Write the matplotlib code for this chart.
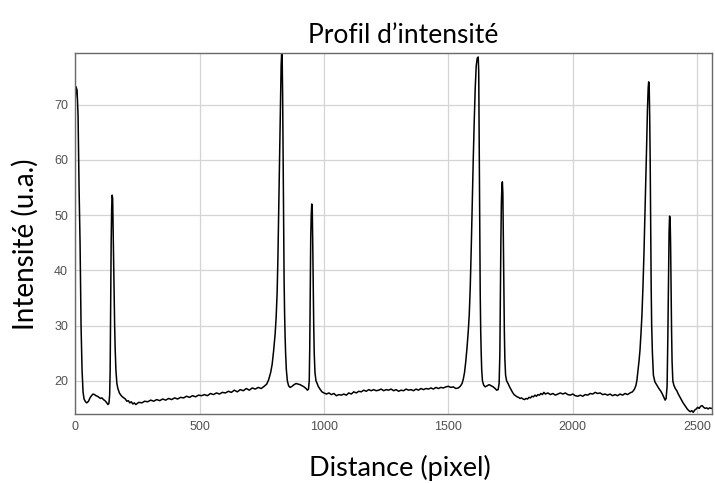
import matplotlib
matplotlib.use("Agg")
import matplotlib.pyplot as plt

distance = [
    0, 4, 8, 12, 16, 20, 24, 28, 32, 36, 42,
    47, 54, 60, 66, 72, 78, 84, 90, 96, 102, 108, 114, 120, 126, 132, 136, 139,
    141, 143, 145, 147, 149, 151, 153, 155, 157, 159, 161, 164, 168, 172, 178,
    184, 190, 196, 202, 208, 214, 220, 226, 232, 238, 244, 250,
    256, 268, 280, 292, 304, 316, 328, 340, 352, 364, 376, 388, 400, 412, 424,
    436, 448, 460, 472, 484, 496, 508, 520, 532, 544, 556, 568, 580, 592, 604,
    616, 628, 640, 652, 664, 676, 688, 700, 712, 724, 736, 748, 760, 770, 778,
    786, 792, 798, 804, 808, 812, 815, 818, 821, 824, 826, 828, 830, 832, 834,
    836, 838, 840, 842, 844, 846, 849, 853, 858, 864, 872, 880, 888, 896, 904,
    912, 920, 928, 934, 938, 941, 943, 945, 947, 949, 951, 953, 955, 957, 959,
    961, 964, 968, 972, 977, 984, 992, 1000, 1010, 1020, 1030, 1040, 1050, 1060,
    1070, 1080, 1090, 1100, 1110, 1120, 1130, 1140, 1150, 1160, 1170, 1180, 1190,
    1200, 1210, 1220, 1230, 1240, 1250, 1260, 1270, 1280, 1290, 1300, 1310, 1320,
    1330, 1340, 1350, 1360, 1370, 1380, 1390, 1400, 1410, 1420, 1430, 1440, 1450,
    1460, 1470, 1480, 1490, 1500, 1510, 1520, 1530, 1540, 1548, 1555, 1560, 1565,
    1570, 1575, 1580, 1584, 1588, 1592, 1596, 1600, 1604, 1608, 1612, 1616, 1620,
    1622, 1624, 1626, 1628, 1630, 1632, 1634, 1637, 1642, 1648, 1656, 1664, 1672,
    1680, 1688, 1694, 1700, 1704, 1707, 1709, 1711, 1713, 1715, 1717, 1719, 1721,
    1723, 1725, 1727, 1730, 1734, 1740, 1746, 1752, 1758, 1764, 1770, 1776, 1782,
    1788, 1794, 1800, 1806, 1812, 1818, 1824, 1830, 1836, 1842, 1848, 1854, 1860,
    1866, 1872, 1878, 1884, 1890, 1900, 1910, 1920, 1930, 1940, 1950, 1960, 1970,
    1980, 1990, 2000, 2010, 2020, 2030, 2040, 2050, 2060, 2070, 2080, 2090, 2100,
    2110, 2120, 2130, 2140, 2150, 2160, 2170, 2180, 2190, 2200, 2210, 2220, 2230,
    2240, 2248, 2254, 2258, 2262, 2266, 2270, 2274, 2278, 2282, 2286, 2290, 2294,
    2297, 2300, 2303, 2305, 2307, 2309, 2311, 2313, 2315, 2317, 2320, 2324, 2330,
    2338, 2346, 2354, 2360, 2366, 2371, 2375, 2379, 2382, 2385, 2387, 2389, 2391,
    2393, 2395, 2397, 2399, 2402, 2406, 2412, 2418, 2424, 2430, 2436, 2442, 2448,
    2454, 2460, 2466, 2472, 2478, 2484, 2490, 2496, 2502, 2508, 2514, 2520, 2526,
    2532, 2538, 2544, 2550, 2556, 2560,
]

intensity = [
    70.5, 73.2, 72.6, 68, 55, 45, 30, 22, 18, 16.7, 16.2,
    16.0, 16.3, 16.9, 17.3, 17.6, 17.5, 17.3, 17.2, 17.0, 16.8, 16.9, 16.6, 16.4, 16.1, 15.7, 15.9, 17.5,
    22, 33, 45, 51, 53.6, 53, 47, 41, 35, 30, 26, 22, 19.5, 18.6, 17.8,
    17.4, 17.1, 16.9, 16.7, 16.3, 16.4, 16.0, 16.2, 15.8, 16.0, 15.7, 15.9,
    16.1, 16.0, 16.3, 16.2, 16.5, 16.3, 16.6, 16.4, 16.7, 16.5, 16.8, 16.6, 16.9, 16.7, 17.0,
    16.9, 17.2, 17.0, 17.3, 17.1, 17.4, 17.3, 17.5, 17.3, 17.7, 17.5, 17.8, 17.6, 17.9, 17.8,
    18.1, 17.9, 18.3, 18.0, 18.4, 18.2, 18.6, 18.3, 18.7, 18.5, 18.8, 18.6, 19.0, 19.4, 20.2,
    21.5, 23, 25.5, 28.5, 31.5, 36, 42, 50, 58, 66, 72, 77, 79.2, 79, 72,
    60, 48, 38, 32, 28, 25, 22, 20, 19.1, 18.8, 19.0, 19.3, 19.5, 19.4, 19.3,
    19.1, 18.9, 18.6, 18.3, 18.5, 20, 26, 36, 46, 50, 52, 51.5, 45, 37, 30,
    25, 21.5, 20, 19.6, 19.0, 18.5, 18.0, 17.8, 17.6, 17.8, 17.5, 17.7, 17.3, 17.5,
    17.4, 17.6, 17.4, 17.8, 17.6, 18.0, 17.8, 18.1, 18.0, 18.3, 18.1, 18.4, 18.2,
    18.4, 18.2, 18.3, 18.5, 18.2, 18.4, 18.3, 18.5, 18.2, 18.4, 18.1, 18.3, 18.2,
    18.5, 18.3, 18.4, 18.2, 18.5, 18.3, 18.6, 18.4, 18.6, 18.5, 18.7, 18.5, 18.8,
    18.6, 18.8, 18.7, 18.9, 19.0, 18.8, 18.9, 18.6, 18.7, 19.0, 19.5, 20.3, 21.5,
    23.5, 26, 29, 32, 37, 44, 52, 60, 67, 73, 77, 78.4, 78.6,
    76, 62, 48, 36, 29, 25, 22, 20, 19.2, 18.9, 19.1, 19.3, 19.1,
    18.9, 18.6, 18.3, 18.4, 19.5, 25, 35, 45, 52, 55, 56, 54, 46,
    37, 29, 24, 21, 20, 19.5, 18.9, 18.4, 17.9, 17.5, 17.3, 17.1, 17.0,
    16.8, 16.9, 16.7, 16.6, 16.8, 16.7, 17.0, 16.9, 17.2, 17.1, 17.4, 17.2, 17.5,
    17.4, 17.7, 17.5, 17.9, 17.6, 17.8, 17.5, 17.7, 17.4, 17.6, 17.8, 17.6, 17.8,
    17.5, 17.4, 17.6, 17.3, 17.2, 17.4, 17.2, 17.5, 17.4, 17.7, 17.6, 17.9, 17.7,
    17.8, 17.5, 17.6, 17.4, 17.6, 17.3, 17.5, 17.3, 17.6, 17.4, 17.7, 17.5, 17.8,
    18.0, 18.5, 19.2, 20.2, 21.8, 23.5, 25.5, 28.5, 32, 37, 43, 50, 57,
    63, 69, 73, 74.1, 73.5, 68, 60, 48, 37, 30, 25, 21, 19.8,
    19.2, 18.6, 18.1, 17.6, 17.0, 16.5, 16.8, 19, 28, 40, 47, 49.8, 49.5,
    45, 37, 29, 23.5, 20, 19.2, 18.6, 18.2, 17.6, 17.1, 16.6, 16.1, 15.7,
    15.3, 14.9, 14.6, 14.4, 14.6, 14.3, 14.7, 14.9, 15.2, 15.0, 15.4, 15.5, 15.2,
    15.0, 15.1, 14.9, 15.1, 15.0, 15.0,
]

x_ticks = [0, 500, 1000, 1500, 2000, 2500]
y_ticks = [20, 30, 40, 50, 60, 70]

fig = plt.figure(figsize=(7.15, 4.83), dpi=100)
ax = fig.add_axes([0.105, 0.143, 0.891, 0.747])
ax.plot(distance, intensity, color="black", lw=1.1)
ax.set_xlim(0, 2560)
ax.set_ylim(14, 79.3)
ax.set_xticks(x_ticks)
ax.set_yticks(y_ticks)
ax.grid(True, color="#d4d4d4", lw=0.9)
ax.set_axisbelow(True)
ax.tick_params(length=0, labelsize=9, labelcolor="#505050", pad=5,
               labelfontfamily="Liberation Sans")
for s in ax.spines.values():
    s.set_color("#6a6a6a")
    s.set_linewidth(1.0)

ax.set_title("Profil d\u2019intensité", fontsize=19, family="Lato", pad=7, x=0.515)
ax.set_xlabel("Distance (pixel)", fontsize=19.5, family="Lato", labelpad=16)
ax.xaxis.label.set_x(0.51)
ax.set_ylabel("Intensité (u.a.)", fontsize=20, family="Lato", labelpad=11)
ax.yaxis.label.set_y(0.47)

fig.savefig("out.png", dpi=100)
